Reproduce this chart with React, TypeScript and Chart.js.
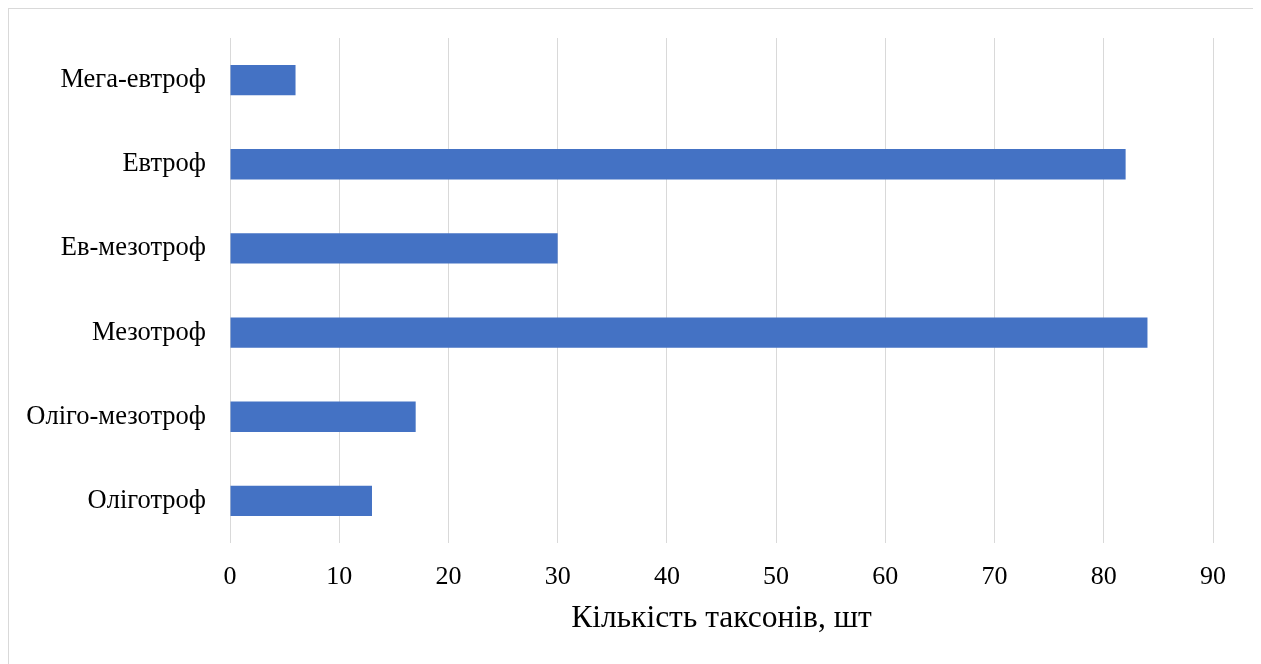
import React, { useEffect, useRef } from "react";
import { Chart, registerables } from "chart.js";

Chart.register(...registerables);

// Trophic groups, listed top to bottom
const categories = [
  "Мега-евтроф",
  "Евтроф",
  "Ев-мезотроф",
  "Мезотроф",
  "Оліго-мезотроф",
  "Оліготроф",
];
// Number of taxa per group
const taxaCounts = [6, 82, 30, 84, 17, 13];
const axisTitle = "Кількість таксонів, шт";
const xMin = 0;
const xMax = 90;
const xStep = 10;

const FONT = "'Liberation Serif', 'Times New Roman', serif";

export default function App() {
  const canvasRef = useRef<HTMLCanvasElement | null>(null);

  useEffect(() => {
    if (!canvasRef.current) return;
    const chart = new Chart(canvasRef.current, {
      type: "bar",
      data: {
        labels: categories,
        datasets: [
          {
            data: taxaCounts,
            backgroundColor: "#4472C4",
            borderWidth: 0,
            barPercentage: 0.36,
            categoryPercentage: 1,
          },
        ],
      },
      options: {
        indexAxis: "y",
        animation: false,
        responsive: false,
        maintainAspectRatio: false,
        layout: { padding: { top: 29, right: 42, left: 0, bottom: 26 } },
        plugins: {
          legend: { display: false },
          tooltip: { enabled: false },
        },
        scales: {
          x: {
            min: xMin,
            max: xMax,
            ticks: {
              stepSize: xStep,
              color: "#000",
              padding: 19,
              font: { family: FONT, size: 26 },
            },
            grid: { color: "#d9d9d9", lineWidth: 1, drawTicks: false },
            border: { display: false },
            title: {
              display: true,
              text: axisTitle,
              color: "#000",
              font: { family: FONT, size: 31.5 },
              padding: { top: 2, bottom: 0 },
            },
            afterFit: (scale: any) => {
              scale.height = 95;
            },
          },
          y: {
            ticks: {
              color: "#000",
              padding: 24,
              font: { family: FONT, size: 26.5 },
            },
            grid: { display: false, drawTicks: false },
            border: { display: false },
            afterFit: (scale: any) => {
              scale.width = 221;
              // category labels sit between gridline ends; no extra vertical room needed
              scale.paddingTop = 0;
              scale.paddingBottom = 0;
            },
          },
        },
      },
    });
    return () => chart.destroy();
  }, []);

  return (
    <div
      style={{
        width: 1248,
        height: 656,
        boxSizing: "border-box",
        border: "1px solid #d9d9d9",
        borderBottom: "none",
        background: "#fff",
      }}
    >
      <canvas
        ref={canvasRef}
        width={1246}
        height={655}
        style={{ display: "block", width: 1246, height: 655 }}
      />
    </div>
  );
}
